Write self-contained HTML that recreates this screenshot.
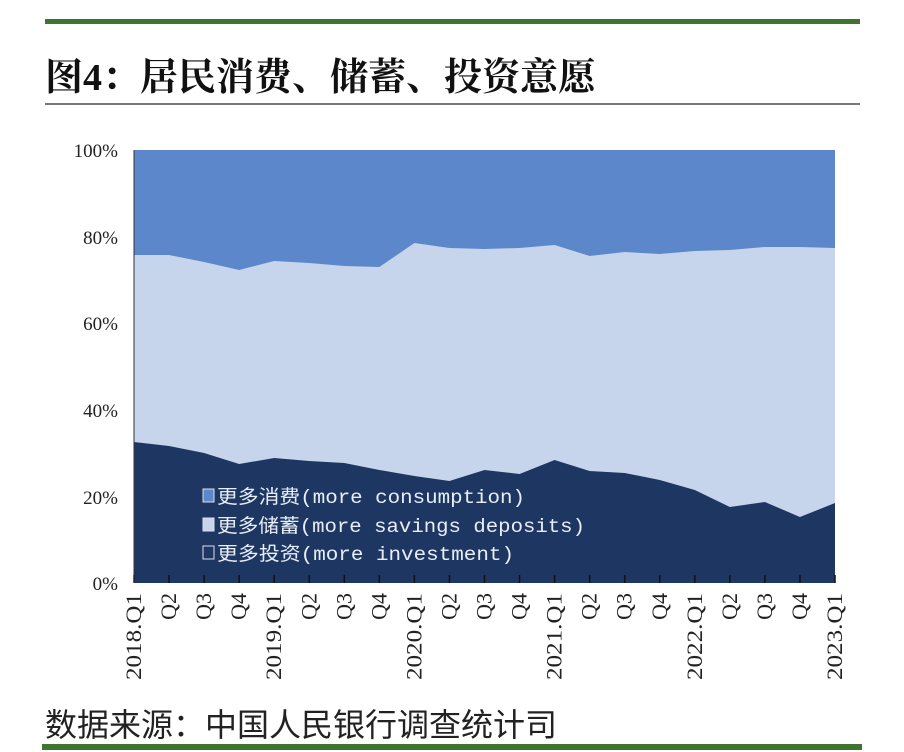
<!DOCTYPE html><html><head><meta charset="utf-8"><style>
body{margin:0;background:#fff;width:904px;height:752px;overflow:hidden;position:relative;font-family:"Liberation Serif","Noto Serif CJK SC",serif}
.t{position:absolute;white-space:nowrap}
</style></head><body>
<div style="position:absolute;left:45px;top:19px;width:815px;height:5px;background:#3f7430"></div>
<div class="t" style="left:45px;top:46px;font-size:38px;font-weight:bold;color:#111;font-family:'Liberation Serif','Noto Serif CJK SC',serif">图4：居民消费、储蓄、投资意愿</div>
<div style="position:absolute;left:45px;top:103px;width:815px;height:2px;background:#777"></div>
<svg width="904" height="752" style="position:absolute;left:0;top:0">
<rect x="134" y="150" width="701" height="433" fill="#5c87ca"/>
<polygon id="m" fill="#c6d5ec"/>
<polygon id="d" fill="#1e3762"/>
<g id="ticks" stroke="#111" stroke-width="1.5"></g>
<line x1="134" y1="150" x2="134" y2="583" stroke="#333"/>
<g font-family="Liberation Serif" font-size="19" fill="#222" text-anchor="end">
<text x="118" y="157">100%</text><text x="118" y="244">80%</text><text x="118" y="330">60%</text><text x="118" y="417">40%</text><text x="118" y="504">20%</text><text x="118" y="590">0%</text>
</g>
<g id="xl" font-family="Liberation Serif" font-size="22" fill="#222"></g>
<g font-family="Liberation Mono,'Noto Sans CJK SC',monospace" font-size="19" fill="#e8eef8">
<rect x="203" y="489" width="11" height="13" fill="#5c87ca" stroke="#dde" />
<text x="217" y="503" textLength="308" lengthAdjust="spacingAndGlyphs">更多消费(more consumption)</text>
<rect x="203" y="518" width="11" height="13" fill="#c6d5ec" stroke="#dde"/>
<text x="217" y="532" textLength="368" lengthAdjust="spacingAndGlyphs">更多储蓄(more savings deposits)</text>
<rect x="203" y="546" width="11" height="13" fill="#1e3762" stroke="#dde"/>
<text x="217" y="560" textLength="297" lengthAdjust="spacingAndGlyphs">更多投资(more investment)</text>
</g>
</svg>
<div class="t" style="left:45px;top:700px;font-size:32px;color:#222;font-family:'Liberation Sans','Noto Sans CJK SC',sans-serif">数据来源：中国人民银行调查统计司</div>
<div style="position:absolute;left:42px;top:744px;width:820px;height:6px;background:#3f7430"></div>
<script>
var top_=[255,255,262,270,261,263,266,267,243,248,249,248,245,256,252,254,251,250,247,247,248];
var dk=[442,446,453,464,458,461,463,470,476,481,470,474,460,471,473,480,490,507,502,517,503];
var X=i=>134+i*35.05;
var m="",d="";top_.forEach((y,i)=>m+=X(i)+","+y+" ");m+="835,583 134,583";
dk.forEach((y,i)=>d+=X(i)+","+y+" ");d+="835,583 134,583";
document.getElementById("m").setAttribute("points",m);
document.getElementById("d").setAttribute("points",d);
var ns="http://www.w3.org/2000/svg",g=document.getElementById("ticks"),xl=document.getElementById("xl");
var labs=["2018.Q1","Q2","Q3","Q4","2019.Q1","Q2","Q3","Q4","2020.Q1","Q2","Q3","Q4","2021.Q1","Q2","Q3","Q4","2022.Q1","Q2","Q3","Q4","2023.Q1"];
for(var i=0;i<21;i++){var l=document.createElementNS(ns,"line");l.setAttribute("x1",X(i));l.setAttribute("x2",X(i));l.setAttribute("y1",575);l.setAttribute("y2",583);g.appendChild(l);
var t=document.createElementNS(ns,"text");t.setAttribute("transform","translate("+(X(i)+7)+",593) rotate(-90)");t.setAttribute("text-anchor","end");if(labs[i].length>2){t.setAttribute("textLength","87");t.setAttribute("lengthAdjust","spacingAndGlyphs");}t.textContent=labs[i];xl.appendChild(t);}
</script>
</body></html>
